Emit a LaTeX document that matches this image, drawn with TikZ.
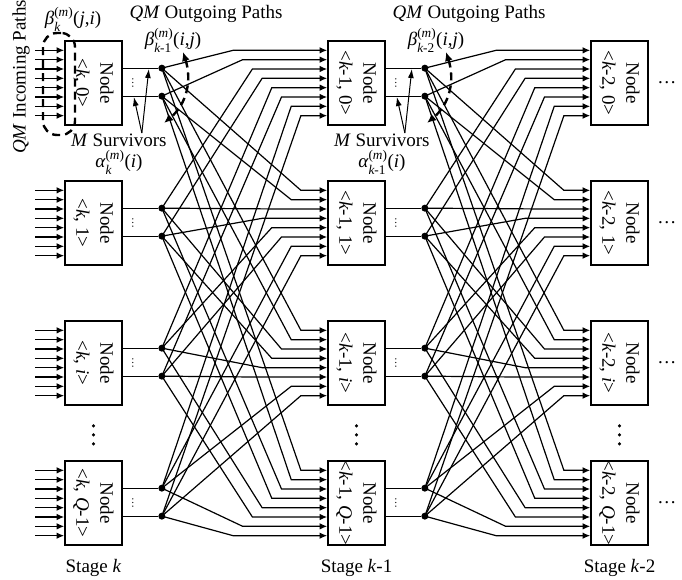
\documentclass[tikz,border=0pt]{standalone}
\usepackage{amsmath}
\usepackage{fontspec}
\setmainfont{Liberation Serif}
\usetikzlibrary{arrows.meta,calc}

% metric labels: Greek letter with (m) superscript and a stage subscript
\newcommand{\metric}[3]{\textit{#1}$^{\textup{(}\textit{m}\textup{)}}_{#2}$\textup{(}#3\textup{)}}

\begin{document}
\begin{tikzpicture}[x=1pt,y=-1pt,
  every node/.style={font=\fontsize{19}{24}\selectfont, inner sep=0pt},
  nodebox/.style={draw, line width=1.7pt, minimum width=57pt, minimum height=84pt},
  wire/.style={line width=1.2pt},
  feed/.style={wire, -{Latex[length=7.5pt,width=6.5pt]}},
  survivor/.style={circle, fill, minimum size=7pt, inner sep=0pt},
  hint/.style={line width=2.4pt, dash pattern=on 8pt off 5pt},
  hintarrow/.style={hint, {Latex[length=9pt,width=8pt]}-{Latex[length=9pt,width=8pt]}},
  pointer/.style={line width=1pt, -{Latex[length=9pt,width=6pt]}},
  vdot/.style={circle, fill, minimum size=3.4pt, inner sep=0pt},
]
\useasboundingbox (0,0) rectangle (682,580);

% ---------- trellis nodes ----------
\foreach \s/\sl in {0/{\textit{k}},1/{\textit{k}-1},2/{\textit{k}-2}} {
  \foreach \r/\rl in {0/0,1/1,2/{\textit{i}},3/{\textit{Q}-1}} {
    \pgfmathsetmacro\bx{65+263*\s+28.5}
    \pgfmathsetmacro\by{41+140*\r+42}
    \node[nodebox] (b\s\r) at (\bx,\by) {};
    \node[rotate=-90, align=center] (t\s\r) at (b\s\r.center) {Node\\<\sl, \rl>};
    % eight input ports on the left side
    \foreach \n in {0,...,7} {
      \coordinate (in\s\r-\n) at ($(b\s\r.west)+(0,{84*(\n+1)/9-42})$);
    }
  }
  % vertical ellipsis between row i and row Q-1
  \node[vdot] (e\s a) at ($(b\s2.south)+(0,20)$) {};
  \node[vdot] (e\s b) at ($(e\s a)+(0,9)$) {};
  \node[vdot] (e\s c) at ($(e\s a)+(0,18)$) {};
  % stage caption
  \node (st\s) at ($(b\s3.south)+(0,22)$) {Stage \sl};
}

% ---------- incoming paths at stage k ----------
\foreach \r in {0,...,3} {
  \foreach \n in {0,...,7} {
    \coordinate (src\r-\n) at ($(in0\r-\n)+(-29,0)$);
    \draw[feed] (src\r-\n) -- (in0\r-\n);
  }
}

% ---------- survivors of stages k and k-1 ----------
\foreach \s in {0,1} {
  \foreach \r in {0,...,3} {
    \foreach \v in {0,1} {
      \node[survivor] (d\s\r\v) at ($(b\s\r.north east)+(39,{28+28*\v})$) {};
      \draw[wire] (b\s\r.east |- d\s\r\v) -- (d\s\r\v);
    }
    \node[rotate=90, font=\fontsize{11}{11}\selectfont] (m\s\r) at ($(b\s\r.east)+(10,0)$) {…};
  }
}

% trailing ellipsis after stage k-2
\foreach \r in {0,...,3} {
  \node (x\r) at ($(b2\r.east)+(18,0)$) {…};
}

% ---------- outgoing paths: survivor (r,v) feeds input 2r+v of every next node ----------
\foreach \s in {0,1} {
  \pgfmathtruncatemacro\t{\s+1}
  \foreach \r in {0,...,3} {
    \foreach \v in {0,1} {
      \pgfmathtruncatemacro\n{2*\r+\v}
      \pgfmathsetmacro\ys{69+140*\r+28*\v}
      \foreach \j in {0,...,3} {
        \pgfmathsetmacro\ya{41+140*\j+84*(\n+1)/9}
        \pgfmathsetmacro\kk{\ys>\ya+0.5 ? \n : 7-\n}
        \pgfmathsetmacro\bx{161+263*\s+72+9.7*\kk}
        \draw[feed] (d\s\r\v.center) -- (\bx,\ya) -- (in\t\j-\n);
      }
    }
  }
}

% ---------- annotations ----------
\node[rotate=90] (inlab) at (21,77) {\textit{QM} Incoming Paths};
\node[draw, hint, rounded corners=14pt, minimum width=32pt, minimum height=102pt] (inset) at (59,84) {};
\node (beta0) at (73,19) {\metric{β}{\textit{k}}{\textit{j},\textit{i}}};

\foreach \s/\sub/\asub in {0/{\textit{k}\textup{-1}}/{\textit{k}}, 1/{\textit{k}\textup{-2}}/{\textit{k}\textup{-1}}} {
  \pgfmathsetmacro\D{161+263*\s}
  \node (out\s) at (\D+45,14) {\textit{QM} Outgoing Paths};
  \node (beta\s x) at (\D+12,40) {\metric{β}{\sub}{\textit{i},\textit{j}}};
  \coordinate (arcA\s) at (\D+22,52);
  \coordinate (arcB\s) at (\D+3,123);
  \draw[hintarrow] (arcA\s) .. controls (\D+31,80) and (\D+26,104) .. (arcB\s);
  % survivor callout
  \node (surv\s) at ($(b\s0.east)+(-4,57)$) {\textit{M} Survivors};
  \node (alpha\s) at ($(b\s0.east)+(-4,79)$) {\metric{α}{\asub}{\textit{i}}};
  \coordinate (ms\s) at ($(b\s0.east)+(19,50)$);
  \coordinate (mt\s a) at ($(b\s0.east)+(11,14)$);
  \coordinate (mt\s b) at ($(b\s0.east)+(26,-14)$);
  \draw[pointer] (ms\s) -- (mt\s a);
  \draw[pointer] (ms\s) -- (mt\s b);
}
\end{tikzpicture}
\end{document}
